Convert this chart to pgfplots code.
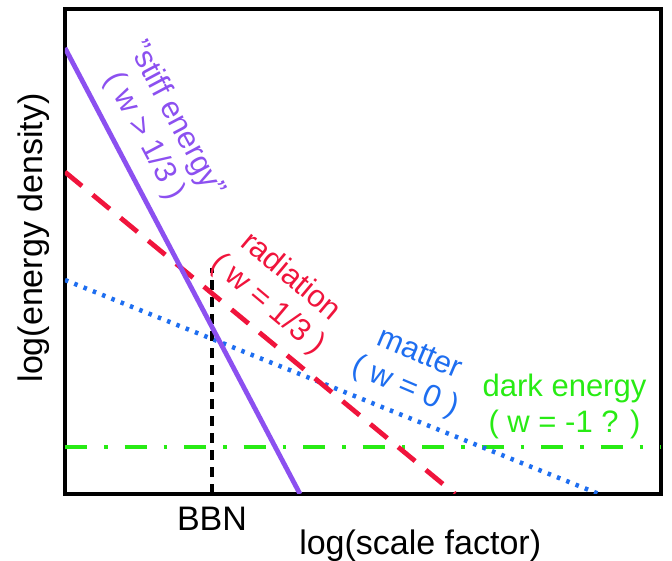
\documentclass[border=0pt]{standalone}
\usepackage{pgfplots}
\pgfplotsset{compat=1.18}
\usepackage{fontspec}
\setmainfont{Liberation Sans}
\definecolor{cstiff}{RGB}{140,80,240}
\definecolor{crad}{RGB}{240,20,60}
\definecolor{cmat}{RGB}{30,110,240}
\definecolor{cde}{RGB}{40,235,20}
\begin{document}
\begin{tikzpicture}
\begin{axis}[
  scale only axis, width=596pt, height=485pt,
  xmin=0, xmax=596, ymin=0, ymax=485,
  axis line style={line width=4pt, black},
  xtick={147}, xticklabels={BBN}, ytick=\empty, major tick length=0pt,
  xticklabel style={font=\fontsize{34}{38}\selectfont, inner sep=0pt, yshift=-13pt},
  xlabel={log(scale factor)}, ylabel={log(energy density)},
  label style={font=\fontsize{34}{38}\selectfont},
  xlabel style={at={(axis description cs:0.596,-0.0742)}, anchor=north, inner sep=0pt},
  ylabel style={at={(axis description cs:-0.0252,0.528)}, anchor=south, inner sep=0pt},
]
% BBN marker
\addplot[black, line width=3.5pt, dash pattern=on 10pt off 7pt] coordinates {(147,0) (147,226)};
% dark energy
\addplot[cde, line width=4.8pt, dash pattern=on 22pt off 17pt on 3.5pt off 17pt] coordinates {(0,47) (596,47)};
% matter
\addplot[cmat, line width=4.5pt, dash pattern=on 3.5pt off 6.5pt] coordinates {(0,214) (534,0)};
% radiation
\addplot[crad, line width=4.8pt, dash pattern=on 22pt off 14pt] coordinates {(0,322) (390,0)};
% stiff
\addplot[cstiff, line width=4.8pt] coordinates {(0,446) (235,0)};

\node[rotate=-62, align=center, text=cstiff, font=\fontsize{31}{36}\selectfont] at (axis cs:95,366) {"stiff energy"\\( w > 1/3 )};
\node[rotate=-40, align=center, text=crad, font=\fontsize{31}{36}\selectfont] at (axis cs:214,203) {radiation\\( w = 1/3 )};
\node[rotate=-23, align=center, text=cmat, font=\fontsize{31}{36}\selectfont] at (axis cs:347,122) {matter\\( w = 0 )};
\node[align=center, text=cde, font=\fontsize{31}{36}\selectfont] at (axis cs:499.5,88) {dark energy\\( w = -1 ? )};
\end{axis}
\pgfresetboundingbox
\path ([shift={(-65pt,-67pt)}]current axis.south west) rectangle ([shift={(11pt,9pt)}]current axis.north east);
\end{tikzpicture}
\end{document}
